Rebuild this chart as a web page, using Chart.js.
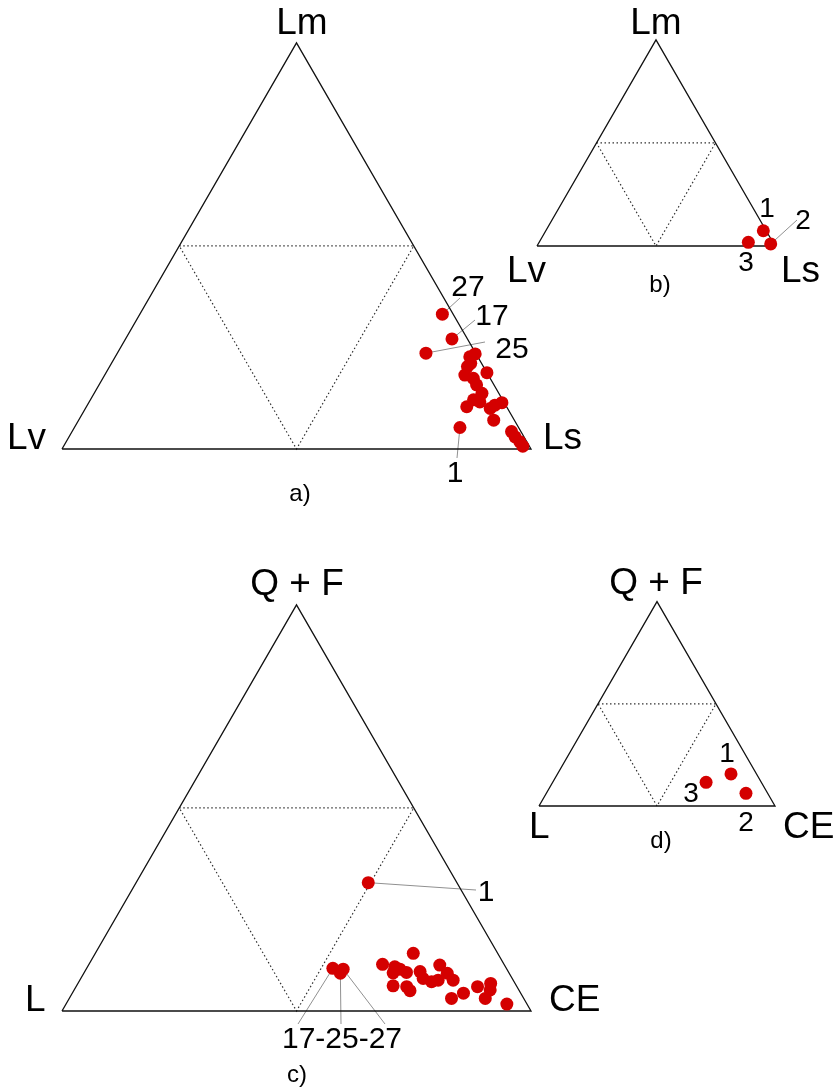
<!DOCTYPE html>
<html>
<head>
<meta charset="utf-8">
<script src="https://cdn.jsdelivr.net/npm/chart.js@4.4.1/dist/chart.umd.min.js"></script>
<style>
  html, body { margin: 0; padding: 0; background: #fff; }
  #page { position: relative; width: 840px; height: 1089px; overflow: hidden; }
  #page canvas { position: absolute; }
  .lbl { position: absolute; font-family: "Liberation Sans", Arial, sans-serif; line-height: 1; white-space: nowrap; color: #000; }
</style>
</head>
<body>
<div id="page"></div>
<script>
// a) Lm - Lv - Ls, percent
const namesA = ['27', '17', '25', '', '', '', '', '', '', '', '', '', '', '', '', '', '', '', '', '1', '', '', '', ''];
const lmA = [33.2, 27.1, 23.6, 23.4, 22.7, 21.1, 20.3, 18.8, 18.2, 17.4, 15.8, 13.7, 11.6, 12.1, 10.4, 10.0, 10.8, 11.4, 7.1, 5.3, 4.3, 3.0, 1.8, 0.7];
const lvA = [2.3, 3.3, 10.6, 0.2, 1.7, 2.3, 3.4, 0.0, 5.0, 3.6, 3.7, 3.6, 5.1, 6.2, 8.5, 3.7, 2.3, 0.5, 4.4, 12.5, 2.0, 1.9, 1.5, 1.4];
const lsA = [64.5, 69.6, 65.8, 76.4, 75.6, 76.6, 76.3, 81.2, 76.8, 79.0, 80.5, 82.7, 83.3, 81.7, 81.1, 86.3, 86.9, 88.1, 88.5, 82.2, 93.7, 95.1, 96.7, 97.9];

// b) Lm - Lv - Ls, percent
const namesB = ['1', '2', '3'];
const lmB = [7.4, 1.0, 1.8];
const lvB = [1.2, 1.3, 10.3];
const lsB = [91.4, 97.7, 87.9];

// c) Q+F - L - CE, percent
const namesC = ['1', '17', '27', '25', '', '', '', '', '', '', '', '', '', '', '', '', '', '', '', '', '', '', '', '', '', '', ''];
const qfC = [31.6, 10.5, 10.3, 9.3, 14.2, 11.5, 10.9, 9.4, 10.3, 9.5, 9.7, 8.0, 7.2, 11.3, 7.6, 9.3, 7.6, 6.2, 6.0, 5.0, 3.1, 4.4, 6.0, 6.8, 5.2, 3.1, 1.7];
const lC = [18.9, 37.0, 34.9, 36.0, 18.0, 25.9, 23.6, 24.7, 22.8, 21.8, 18.8, 19.0, 17.6, 13.8, 16.0, 13.2, 12.8, 26.3, 23.5, 23.3, 15.4, 12.2, 8.4, 5.2, 6.1, 8.2, 4.3];
const ceC = [49.5, 52.5, 54.8, 54.7, 67.8, 62.6, 65.5, 65.9, 66.9, 68.7, 71.5, 73.0, 75.2, 74.9, 76.4, 77.5, 79.6, 67.5, 70.5, 71.7, 81.5, 83.4, 85.6, 88.0, 88.7, 88.7, 94.0];

// d) Q+F - L - CE, percent
const namesD = ['1', '2', '3'];
const qfD = [15.7, 6.2, 11.6];
const lD = [10.8, 9.2, 23.4];
const ceD = [73.5, 84.6, 65.0];

const RED = '#d40000';
const S3 = Math.sqrt(3) / 2;
const page = document.getElementById('page');

// layout of the four diagrams (page pixels)
const diagrams = [
  { ox: 62, oy: 449, side: 469, top: lmA, left: lvA, right: lsA, names: namesA,
    texts: [['Lm', 302, 34, 37, 'c'], ['Lv', 7, 449, 37, 'l'], ['Ls', 543, 449, 37, 'l'], ['a)', 300, 501, 24, 'c'],
            ['27', 468, 296, 30, 'c'], ['17', 492, 325, 30, 'c'], ['25', 512, 358, 30, 'c'], ['1', 455, 482, 30, 'c']],
    leaders: { '27': [460, 298], '17': [475, 320], '25': [485, 342], '1': [457, 458] } },
  { ox: 537, oy: 246, side: 238, top: lmB, left: lvB, right: lsB, names: namesB,
    texts: [['Lm', 656, 34, 37, 'c'], ['Lv', 507, 282, 37, 'l'], ['Ls', 781, 282, 37, 'l'], ['b)', 660, 292, 24, 'c'],
            ['1', 767, 218, 28, 'c'], ['2', 803, 230, 28, 'c'], ['3', 746, 272, 28, 'c']],
    leaders: { '2': [797, 220] } },
  { ox: 62, oy: 1011, side: 469, top: qfC, left: lC, right: ceC, names: namesC,
    texts: [['Q + F', 297, 595, 37, 'c'], ['L', 25, 1011, 37, 'l'], ['CE', 549, 1011, 37, 'l'], ['c)', 297, 1082, 24, 'c'],
            ['1', 486, 901, 30, 'c'], ['17-25-27', 342, 1048, 30, 'c']],
    leaders: { '1': [476, 890], '17': [298, 1024], '25': [341, 1024], '27': [385, 1024] } },
  { ox: 539, oy: 806, side: 236, top: qfD, left: lD, right: ceD, names: namesD,
    texts: [['Q + F', 656, 594, 37, 'c'], ['L', 529, 838, 37, 'l'], ['CE', 783, 838, 37, 'l'], ['d)', 661, 848, 24, 'c'],
            ['1', 727, 763, 28, 'c'], ['3', 691, 803, 28, 'c'], ['2', 746, 832, 28, 'c']],
    leaders: {} }
];

function addText(t, x, base, size, align) {
  const el = document.createElement('div');
  el.className = 'lbl';
  el.textContent = t;
  el.style.fontSize = size + 'px';
  el.style.left = x + 'px';
  el.style.top = (base - 0.8465 * size) + 'px';
  if (align === 'c') el.style.transform = 'translateX(-50%)';
  page.appendChild(el);
}

function drawDiagram(d) {
  const pad = 60;
  const H = d.side * S3;
  const left = d.ox - pad, top = Math.round(d.oy - H - pad);
  const W = d.side + 2 * pad, Hc = Math.round(H + 2 * pad);
  const canvas = document.createElement('canvas');
  canvas.width = W; canvas.height = Hc;
  canvas.style.left = left + 'px'; canvas.style.top = top + 'px';
  canvas.style.width = W + 'px'; canvas.style.height = Hc + 'px';
  page.appendChild(canvas);

  // ternary -> cartesian, unit side
  const pts = d.top.map((t, i) => {
    const s = t + d.left[i] + d.right[i];
    return { x: (d.right[i] + t / 2) / s, y: (t * S3) / s };
  });
  const h = S3;

  const leaderPlugin = {
    id: 'leaders',
    beforeDatasetsDraw(chart) {
      const { ctx, scales: { x, y } } = chart;
      ctx.save();
      ctx.strokeStyle = '#909090';
      ctx.lineWidth = 1;
      d.names.forEach((n, i) => {
        const to = d.leaders[n];
        if (!n || !to) return;
        ctx.beginPath();
        ctx.moveTo(x.getPixelForValue(pts[i].x), y.getPixelForValue(pts[i].y));
        ctx.lineTo(to[0] - left, to[1] - top);
        ctx.stroke();
      });
      ctx.restore();
    }
  };

  new Chart(canvas.getContext('2d'), {
    type: 'scatter',
    data: {
      datasets: [
        {
          data: pts,
          backgroundColor: RED,
          borderWidth: 0,
          pointRadius: 6.5
        },
        {
          data: [{ x: 0, y: 0 }, { x: 1, y: 0 }, { x: 0.5, y: h }, { x: 0, y: 0 }],
          showLine: true,
          borderColor: '#111',
          borderWidth: 1.3,
          pointRadius: 0,
          fill: false
        },
        {
          data: [{ x: 0.25, y: h / 2 }, { x: 0.75, y: h / 2 }, { x: 0.5, y: 0 }, { x: 0.25, y: h / 2 }],
          showLine: true,
          borderColor: '#333',
          borderWidth: 1.2,
          borderDash: [1.5, 2.5],
          pointRadius: 0,
          fill: false
        }
      ]
    },
    options: {
      responsive: false,
      animation: false,
      events: [],
      layout: { padding: 0, autoPadding: false },
      plugins: {
        legend: { display: false },
        tooltip: { enabled: false }
      },
      scales: {
        x: { type: 'linear', display: false, min: -(d.ox - left) / d.side, max: (left + W - d.ox) / d.side },
        y: { type: 'linear', display: false, min: -(top + Hc - d.oy) / d.side, max: (d.oy - top) / d.side }
      }
    },
    plugins: [leaderPlugin]
  });

  d.texts.forEach(([t, x, b, s, a]) => addText(t, x, b, s, a));
}

diagrams.forEach(drawDiagram);
</script>
</body>
</html>
